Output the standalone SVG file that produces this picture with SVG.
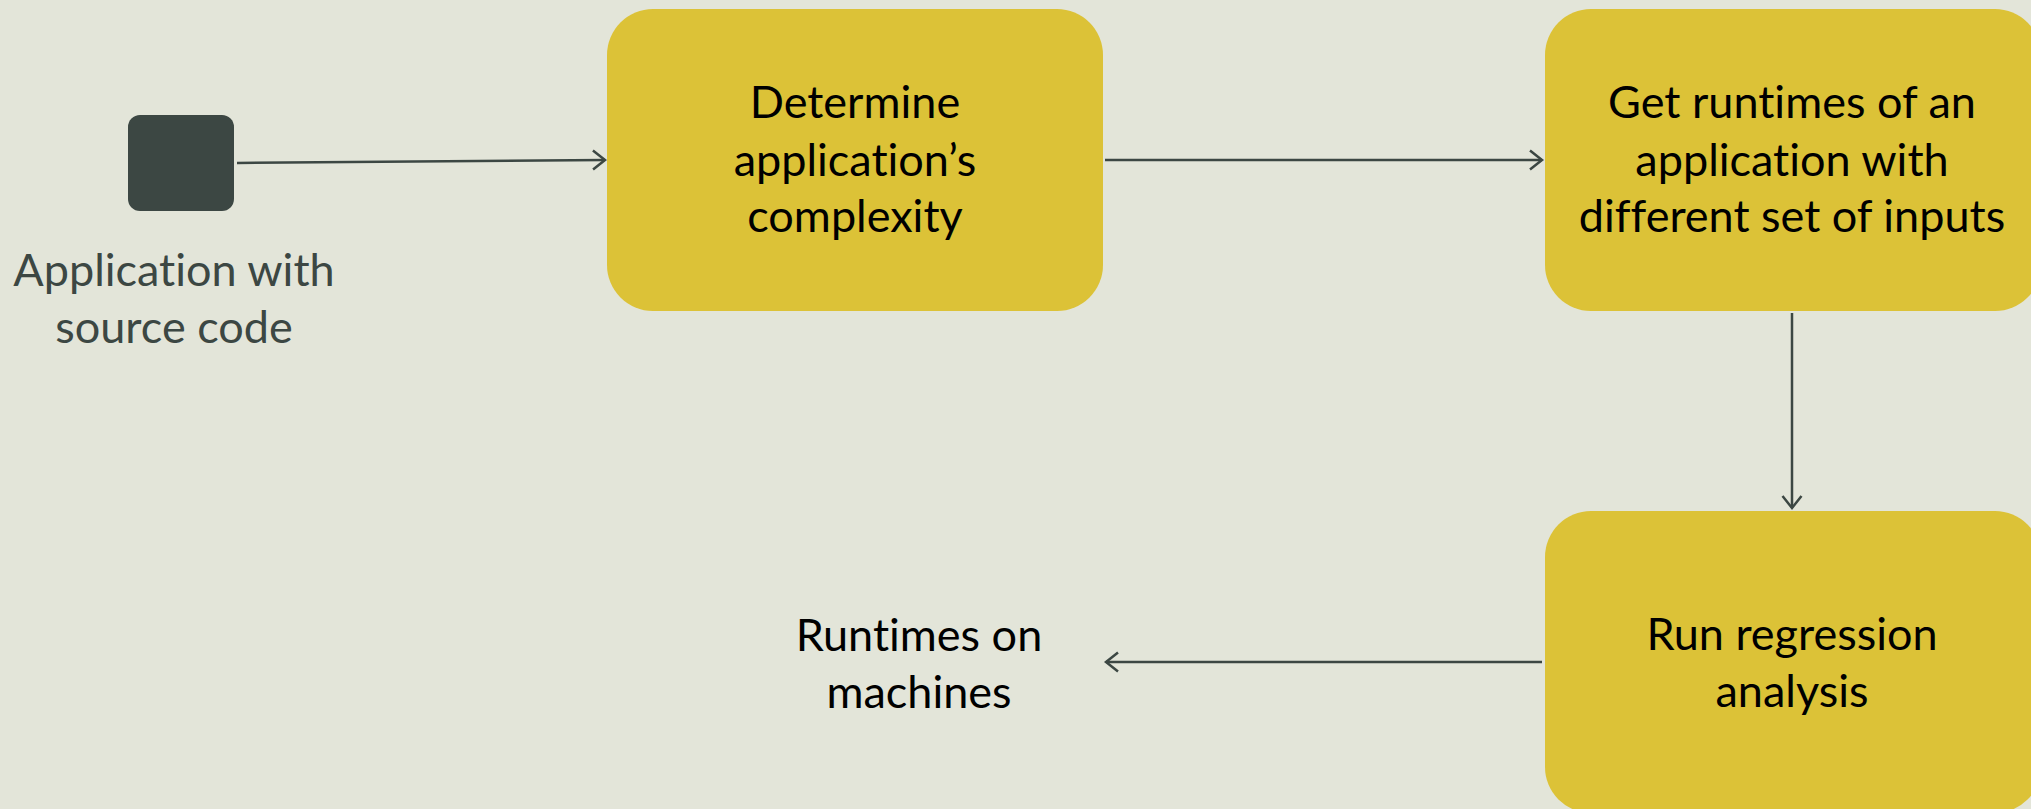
<svg xmlns="http://www.w3.org/2000/svg" width="2031" height="809" viewBox="0 0 2031 809">
  <style>
    .step { fill: #dcc237; }
    .lbl { font-family: Lato, "Open Sans", "Liberation Sans", sans-serif; font-size: 45px; fill: #000; text-anchor: middle; font-variant-ligatures: none; font-feature-settings: "liga" 0, "dlig" 0; }
    .lbl-dark { fill: #3c4743; }
    .edge { fill: none; stroke: #3c4743; stroke-width: 2.5; }
  </style>
  <defs>
    <marker id="open-arrow" markerUnits="userSpaceOnUse" markerWidth="26" markerHeight="26" viewBox="0 0 26 26" refX="23" refY="13" orient="auto">
      <path d="M11,3.5 L23,13 L11,22.5" fill="none" stroke="#3c4743" stroke-width="2.5"/>
    </marker>
  </defs>
  <rect width="2031" height="809" fill="#e3e5d9"/>

  <g id="connectors">
    <path class="edge" d="M237,163 L605,160" marker-end="url(#open-arrow)"/>
    <path class="edge" d="M1105,160 L1542,160" marker-end="url(#open-arrow)"/>
    <path class="edge" d="M1792,313 L1792,508" marker-end="url(#open-arrow)"/>
    <path class="edge" d="M1542,662 L1106,662" marker-end="url(#open-arrow)"/>
  </g>

  <g id="source">
    <rect x="128" y="115" width="106" height="96" rx="12" fill="#3c4743"/>
    <text class="lbl lbl-dark" x="174" y="286">Application with</text>
    <text class="lbl lbl-dark" x="174" y="343">source code</text>
  </g>

  <g id="complexity">
    <rect class="step" x="607" y="9" width="496" height="302" rx="46"/>
    <text class="lbl" x="855" y="118">Determine</text>
    <text class="lbl" x="855" y="176">application’s</text>
    <text class="lbl" x="855" y="232">complexity</text>
  </g>

  <g id="runtimes">
    <rect class="step" x="1545" y="9" width="496" height="302" rx="46"/>
    <text class="lbl" x="1792" y="118">Get runtimes of an</text>
    <text class="lbl" x="1792" y="176">application with</text>
    <text class="lbl" x="1792" y="232">different set of inputs</text>
  </g>

  <g id="regression">
    <rect class="step" x="1545" y="511" width="496" height="302" rx="46"/>
    <text class="lbl" x="1792" y="650">Run regression</text>
    <text class="lbl" x="1792" y="707">analysis</text>
  </g>

  <g id="result">
    <text class="lbl" x="919" y="651">Runtimes on</text>
    <text class="lbl" x="919" y="708">machines</text>
  </g>
</svg>
